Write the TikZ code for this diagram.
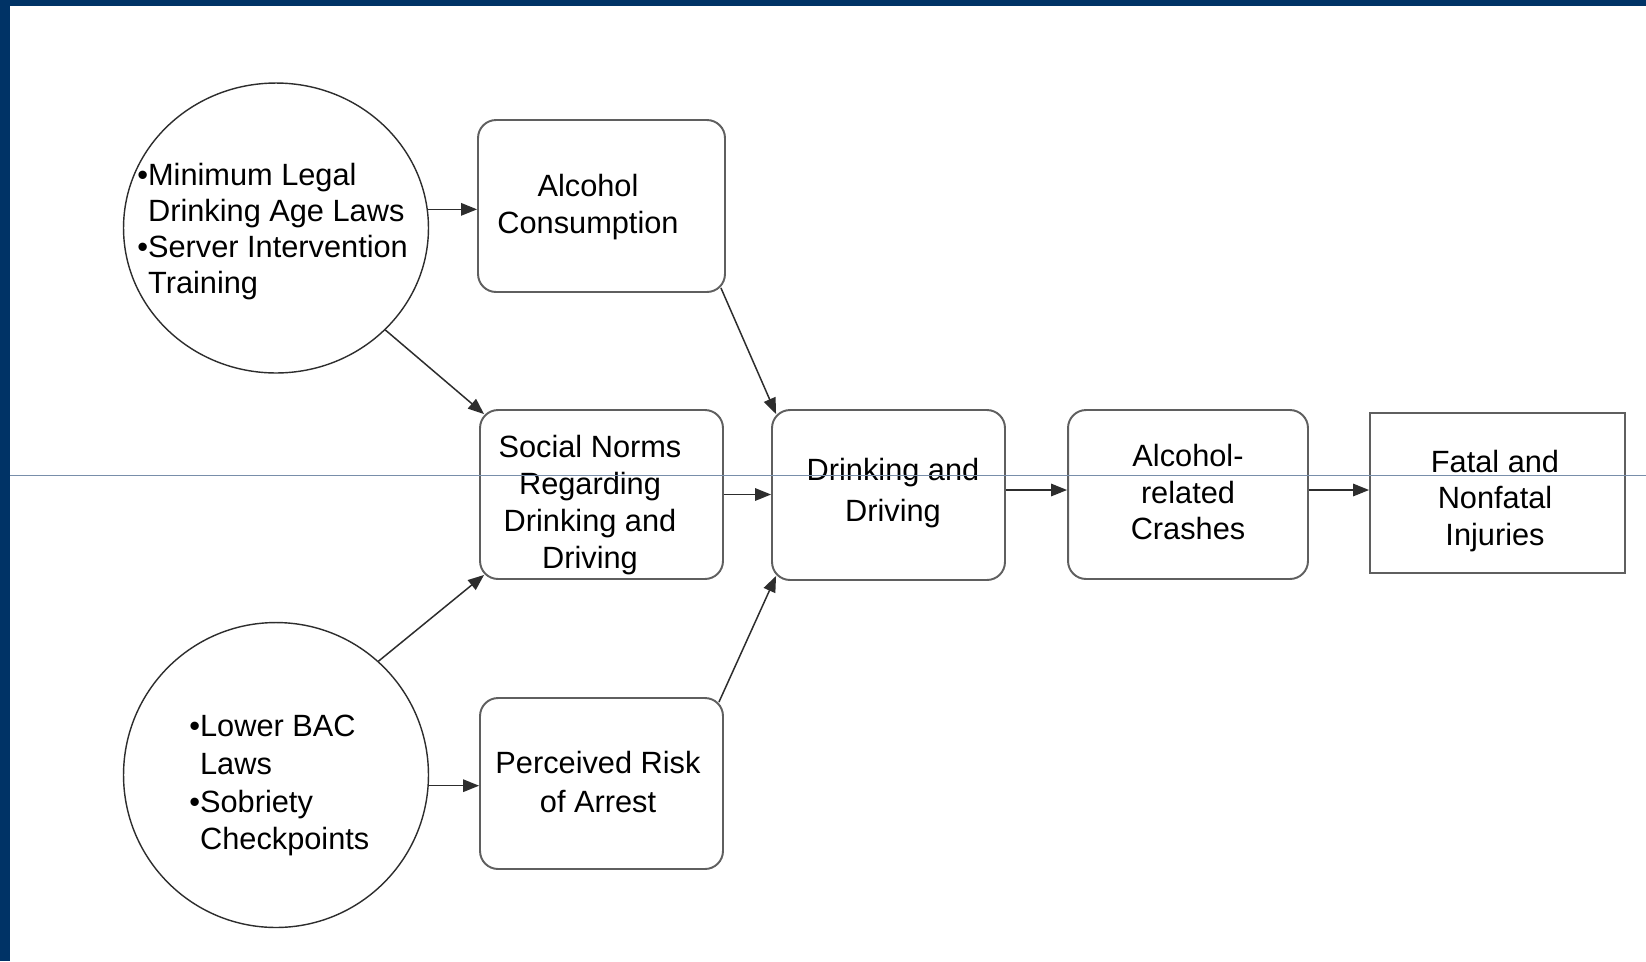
\documentclass[tikz,border=0pt]{standalone}
\usepackage{fontspec}
\setmainfont{Liberation Sans}
\usetikzlibrary{arrows.meta,calc,shapes.geometric}
\definecolor{navy}{RGB}{0,51,102}
\definecolor{guide}{RGB}{120,142,170}
\definecolor{boxgray}{RGB}{95,95,95}
\definecolor{linegray}{RGB}{45,45,45}
\begin{document}
\begin{tikzpicture}[x=0.02cm,y=-0.02cm,
  flowbox/.style={draw=boxgray,line width=1.1pt,rounded corners=0.36cm,fill=white,inner sep=0pt},
  sharpbox/.style={draw=boxgray,line width=1.1pt,fill=white,inner sep=0pt},
  oval/.style={ellipse,draw=linegray,line width=0.8pt,fill=white,inner sep=0pt},
  txt/.style={align=center,inner sep=0pt,text=black,font=\fontsize{17.5}{21}\selectfont},
  ltxt/.style={align=left,inner sep=0pt,text=black,anchor=north west},
  conn/.style={draw=linegray,line width=0.85pt,-{Triangle[length=0.32cm,width=0.25cm]}}]
\useasboundingbox (0,0) rectangle (1646,961);
\fill[white] (0,0) rectangle (1646,961);
\fill[navy] (0,0) rectangle (1646,6);
\fill[navy] (0,0) rectangle (10,961);

% circles
\node[oval,minimum width=6.1cm,minimum height=5.8cm] (c1) at (276,228) {};
\node[oval,minimum width=6.1cm,minimum height=6.1cm] (c2) at (276,775) {};

% boxes
\node[flowbox,minimum width=4.94cm,minimum height=3.44cm] (ac) at (601.5,206) {};
\node[flowbox,minimum width=4.86cm,minimum height=3.38cm] (sn) at (601.5,494.5) {};
\node[flowbox,minimum width=4.86cm,minimum height=3.42cm] (pr) at (601.5,783.5) {};
\node[flowbox,minimum width=4.66cm,minimum height=3.4cm] (dd) at (888.5,495) {};
\node[flowbox,minimum width=4.8cm,minimum height=3.38cm] (cr) at (1188,494.5) {};
\node[sharpbox,minimum width=5.1cm,minimum height=3.2cm] (fi) at (1497.5,493) {};

% texts
\node[ltxt,font=\fontsize{17.5}{20.5}\selectfont] (t1) at (137,163)
  {•Minimum Legal\\\phantom{•}Drinking Age Laws\\•Server Intervention\\\phantom{•}Training};
\node[ltxt,font=\fontsize{17.5}{21.4}\selectfont] (t2) at (189,715)
  {•Lower BAC\\\phantom{•}Laws\\•Sobriety\\\phantom{•}Checkpoints};
\node[txt] (tac) at (588,207) {Alcohol\\Consumption};
\node[txt] (tsn) at (590,505) {Social Norms\\Regarding\\Drinking and\\Driving};
\node[txt,font=\fontsize{17.5}{22.5}\selectfont] (tpr) at (598,782) {Perceived Risk\\of Arrest};
\node[txt,font=\fontsize{17.5}{23}\selectfont] (tdd) at (893,493) {Drinking and\\Driving};
\node[txt] (tcr) at (1188,492) {Alcohol-\\related\\Crashes};
\node[txt] (tfi) at (1495,501) {Fatal and\\Nonfatal\\Injuries};

% connectors
\draw[conn] (c1.7) -- (c1.7 -| ac.west);
\draw[conn] (c1.-43) -- ($(sn.north west)+(5,5)$);
\draw[conn] ($(ac.south east)+(-5,-5)$) -- ($(dd.north west)+(5,5)$);
\draw[conn] (sn.east) -- (sn.east -| dd.west);
\draw[conn] (c2.48) -- ($(sn.south west)+(5,-5)$);
\draw[conn] (c2.-4.5) -- (c2.-4.5 -| pr.west);
\draw[conn] ($(pr.north east)+(-5,5)$) -- ($(dd.south west)+(5,-5)$);
\coordinate (d1) at ([yshift=0.1cm]dd.east);
\draw[conn] (d1) -- (d1 -| cr.west);
\coordinate (d2) at ([yshift=0.09cm]cr.east);
\draw[conn] (d2) -- (d2 -| fi.west);

% thin guide line
\draw[guide,line width=0.5pt] (10,475) -- (1646,475);
\end{tikzpicture}
\end{document}
